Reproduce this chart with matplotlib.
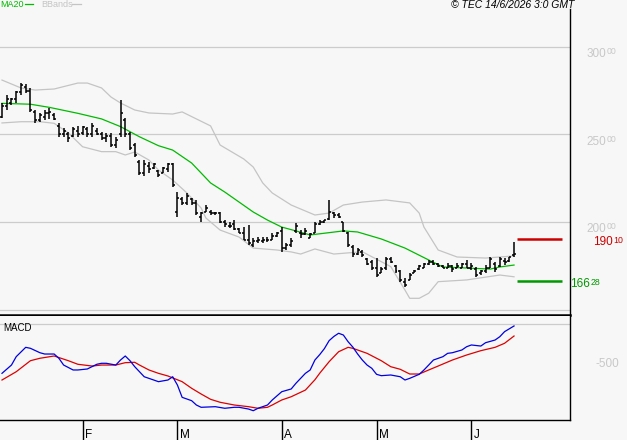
import numpy as np
import matplotlib.pyplot as plt
from matplotlib.lines import Line2D

plt.rcParams['font.family'] = ['Liberation Sans', 'DejaVu Sans']

# daily OHLC, 8 Jan - 12 Jun 2026
bar_high = [268.0, 272.6, 271.0, 275.0, 279.4, 279.0, 276.6, 264.0, 262.0, 264.0,
            265.0, 262.0, 256.6, 253.7, 251.4, 254.0, 254.9, 254.9, 254.0, 256.6,
            253.7, 251.4, 250.9, 250.9, 248.6, 269.7, 259.4, 251.4, 245.0, 235.4,
            235.4, 234.5, 233.9, 229.7, 231.6, 233.5, 233.5, 217.3, 214.5, 216.4,
            213.5, 212.6, 205.9, 209.7, 206.9, 205.9, 205.9, 201.1, 200.2, 201.1,
            196.4, 197.3, 198.3, 190.7, 191.6, 191.6, 191.6, 193.5, 194.5, 197.3,
            187.8, 190.7, 199.6, 195.4, 196.4, 193.5, 200.2, 201.1, 201.1, 212.6,
            205.9, 205.0, 200.2, 194.5, 186.9, 185.0, 184.0, 179.2, 178.3, 179.2,
            174.5, 180.2, 180.2, 175.4, 172.6, 167.8, 170.7, 172.6, 175.4, 176.4,
            178.3, 178.3, 176.4, 175.4, 176.4, 175.4, 176.4, 176.4, 178.3, 176.4,
            174.5, 172.6, 175.4, 180.2, 177.3, 180.2, 179.2, 180.2, 188.8]
bar_low = [259.4, 264.0, 267.0, 268.0, 272.6, 273.7, 263.0, 256.6, 257.0, 258.0,
           259.0, 258.0, 248.6, 248.6, 245.7, 248.6, 248.6, 249.7, 248.6, 248.6,
           249.7, 246.9, 245.7, 242.9, 242.3, 248.6, 248.6, 241.0, 237.0, 226.9,
           226.3, 227.8, 230.1, 225.9, 227.8, 228.7, 220.2, 203.0, 209.7, 209.7,
           209.7, 204.0, 200.2, 205.9, 204.0, 204.0, 199.2, 197.3, 196.4, 195.4,
           193.5, 189.7, 186.9, 185.9, 187.8, 187.8, 188.8, 189.7, 191.6, 183.0,
           184.0, 185.9, 193.5, 190.9, 192.6, 190.7, 193.5, 198.3, 199.2, 201.1,
           202.1, 202.1, 194.5, 185.9, 180.2, 181.1, 180.2, 175.4, 172.6, 168.7,
           170.7, 172.6, 176.4, 170.7, 165.9, 163.0, 166.9, 170.7, 172.6, 173.5,
           175.4, 175.4, 174.5, 173.5, 173.5, 171.6, 173.5, 173.5, 173.5, 172.6,
           168.7, 170.0, 170.7, 173.5, 171.6, 174.5, 175.4, 177.3, 180.2]
bar_open = [260, 266, 268, 270, 274, 277, 275, 263, 258, 260,
            262, 261, 255, 250, 250, 249, 252, 251, 253, 250,
            252, 250, 248, 249, 244, 250, 258, 250, 244, 234,
            228, 232, 231, 229, 228, 230, 233, 206, 213, 211,
            213, 211, 203, 206, 206, 205, 205, 200, 198, 199,
            196, 194, 190, 187, 189, 189, 190, 190, 192, 195,
            185, 187, 195, 194, 193, 191, 194, 199, 200, 202,
            205, 204, 200, 194, 186, 182, 183, 179, 177, 174,
            171, 174, 179, 175, 172, 166, 167, 171, 173, 174,
            176, 177, 176, 175, 174, 175, 174, 174, 176, 174,
            173, 171, 172, 174, 176, 175, 178, 178, 181]
bar_close = [266, 270, 270, 274, 278, 275, 264, 258, 261, 262,
             263, 259, 250, 252, 248, 253, 250, 254, 250, 255,
             250, 248, 249, 244, 247, 262, 250, 242, 238, 228,
             233, 230, 233, 227, 231, 233, 221, 214, 211, 215,
             211, 205, 205, 208, 205, 205, 200, 199, 198, 196,
             194, 190, 188, 189, 190, 190, 190, 192, 194, 185,
             187, 189, 198, 193, 195, 193, 199, 200, 201, 206,
             204, 203, 195, 187, 182, 184, 181, 176, 174, 170,
             173, 179, 177, 172, 167, 164, 170, 172, 175, 176,
             177, 176, 175, 174, 175, 173, 175, 176, 174, 175,
             170, 172, 174, 179, 173, 179, 177, 180, 182]

ma_idx = [0, 6, 10, 16, 21, 25, 29, 33, 36, 40, 44, 47, 53, 56, 59, 62, 65,
          72, 75, 80, 85, 90, 93, 98, 103, 105, 108]
ma_val = [267.8, 267.3, 265.5, 262.1, 258.9, 254.5, 248.7, 243.6, 241.1, 233.7,
          222.3, 217.1, 205.7, 201.1, 197.1, 194.9, 192.6, 194.9, 194.3, 190.3,
          185.1, 178.3, 174.3, 173.7, 173.1, 174.3, 175.4]

bb_up_idx = [0, 4, 7, 11, 16, 18, 21, 23, 25, 28, 31, 36, 38, 44, 46, 51, 53,
             55, 57, 61, 66, 69, 72, 76, 81, 86, 88, 89, 92, 96, 102, 108]
bb_up_val = [281.1, 276.6, 275.4, 276.0, 279.4, 279.4, 276.6, 271.4, 268.0, 264.0,
             262.3, 261.7, 262.9, 254.9, 244.0, 236.0, 231.4, 222.3, 216.6, 209.7,
             204.0, 205.1, 209.7, 211.4, 212.6, 210.9, 205.1, 197.1, 184.0, 180.0,
             179.4, 180.6]
bb_lo_idx = [0, 4, 8, 11, 14, 17, 21, 24, 26, 28, 31, 33, 36, 39, 42, 43, 46,
             50, 53, 58, 61, 63, 66, 70, 76, 82, 85, 86, 88, 90, 92, 98, 105, 108]
bb_lo_val = [256.6, 257.3, 257.3, 256.4, 250.9, 243.0, 240.2, 240.2, 238.3, 240.0,
             235.4, 229.7, 224.0, 216.6, 208.0, 202.3, 195.4, 191.4, 185.1, 184.0,
             182.9, 181.7, 184.6, 181.7, 183.0, 174.5, 161.1, 156.4, 156.4, 159.3,
             165.9, 166.9, 169.7, 168.7]

macd_idx = [0, 2, 3, 5, 6, 8, 9, 11, 12, 13, 15, 16, 18, 20, 21, 22, 24, 25, 26,
            27, 28, 30, 32, 33, 35, 36, 37, 38, 40, 41, 42, 45, 47, 49, 50, 52, 53,
            54, 56, 57, 59, 61, 62, 64, 65, 66, 67, 68, 69, 70, 71, 72, 73, 74, 75,
            76, 77, 78, 79, 80, 82, 84, 85, 86, 88, 89, 90, 91, 93, 94, 95, 97, 98,
            99, 101, 102, 104, 105, 106, 108]
macd_val = [-645, -536, -426, -303, -316, -374, -391, -391, -447, -536, -601, -601,
            -588, -526, -513, -513, -536, -470, -417, -479, -558, -690, -733, -755,
            -733, -690, -799, -961, -1005, -1062, -1092, -1084, -1105, -1092, -1092,
            -1115, -1137, -1105, -1062, -996, -887, -851, -776, -645, -601, -470,
            -400, -320, -215, -160, -118, -141, -229, -300, -390, -470, -536, -579,
            -658, -676, -667, -690, -733, -711, -658, -601, -536, -470, -426, -382,
            -374, -338, -295, -272, -286, -242, -207, -163, -97, -22]
sig_idx = [0, 3, 6, 8, 11, 14, 16, 19, 21, 24, 26, 28, 29, 31, 33, 35, 38, 40,
           42, 44, 46, 49, 52, 54, 56, 57, 59, 61, 64, 66, 67, 69, 71, 73, 74, 77,
           80, 82, 84, 86, 88, 90, 92, 95, 98, 101, 104, 106, 108]
sig_val = [-733, -624, -479, -447, -417, -479, -526, -549, -536, -536, -505, -500,
           -536, -601, -645, -680, -755, -842, -917, -987, -1026, -1062, -1084,
           -1105, -1092, -1062, -996, -953, -865, -730, -645, -492, -361, -303,
           -316, -382, -479, -558, -592, -654, -654, -601, -549, -470, -404, -347,
           -303, -250, -154]

month_idx = [17, 37, 59, 79, 99]
month_lab = ['F', 'M', 'A', 'M', 'J']
price_grid = [150, 200, 250, 300]
price_lab = [200, 250, 300]
resist = 190.10
support = 166.28

BG = '#f7f7f7'
GRID = '#cccccc'
W, H = 627, 440


def fx(px):
    return px / W


def fy(py):
    return 1 - py / H


fig = plt.figure(figsize=(W / 100, H / 100), dpi=100, facecolor=BG)
ax1 = fig.add_axes([0, fy(315), fx(569.5), fy(9) - fy(315)])
ax2 = fig.add_axes([0, fy(419.5), fx(569.5), fy(316) - fy(419.5)])

for ax in (ax1, ax2):
    ax.set_facecolor(BG)
    ax.set_xticks([])
    ax.set_yticks([])
    for s in ('top', 'left'):
        ax.spines[s].set_visible(False)
    ax.spines['right'].set_color('black')
    ax.spines['right'].set_linewidth(1.0)
    ax.spines['bottom'].set_color('black')
    ax.set_xlim(-0.42, 119.7)
ax1.spines['bottom'].set_linewidth(1.8)
ax2.spines['bottom'].set_linewidth(1.0)

ax1.set_ylim(146.86, 321.71)
ax2.set_ylim(-1252.6, 109.2)

# price panel
for g in price_grid:
    ax1.axhline(g, color=GRID, lw=0.9, zorder=0)

x = np.arange(len(bar_high))
ax1.vlines(x, bar_low, bar_high, color='black', lw=1.1, zorder=3)
ax1.hlines(bar_open, x - 0.42, x, color='black', lw=1.1, zorder=3)
ax1.hlines(bar_close, x, x + 0.42, color='black', lw=1.1, zorder=3)

ax1.plot(bb_up_idx, bb_up_val, color='#c4c4c4', lw=0.9, zorder=1)
ax1.plot(bb_lo_idx, bb_lo_val, color='#c4c4c4', lw=0.9, zorder=1)
ax1.plot(ma_idx, ma_val, color='#00bb00', lw=0.9, zorder=2)

last = len(bar_high) - 1
ax1.hlines(resist, last + 0.6, last + 10.1, color='#cc0000', lw=1.8)
ax1.hlines(support, last + 0.6, last + 10.1, color='#009900', lw=1.8)

yt = ax1.get_yaxis_transform()
for v in price_lab:
    ax1.annotate(str(v), xy=(1, v), xycoords=yt, xytext=(12.3, -7.4),
                 textcoords='offset points', color='#c8c8c8', fontsize=8.5,
                 va='baseline', annotation_clip=False)
    ax1.annotate('00', xy=(1, v), xycoords=yt, xytext=(27.0, -5.3),
                 textcoords='offset points', color='#c8c8c8', fontsize=6.3,
                 va='baseline', annotation_clip=False)

r_int, r_dec = f'{resist:.2f}'.split('.')
s_int, s_dec = f'{support:.2f}'.split('.')
ax1.annotate(r_int, xy=(1, resist), xycoords=yt, xytext=(17.0, -4.2),
             textcoords='offset points', color='#cc0000', fontsize=8.5,
             va='baseline', annotation_clip=False)
ax1.annotate(r_dec, xy=(1, resist), xycoords=yt, xytext=(31.8, -2.9),
             textcoords='offset points', color='#cc0000', fontsize=6.3,
             va='baseline', annotation_clip=False)
ax1.annotate(s_int, xy=(1, support), xycoords=yt, xytext=(0.4, -4.1),
             textcoords='offset points', color='#009900', fontsize=8.5,
             va='baseline', annotation_clip=False)
ax1.annotate(s_dec, xy=(1, support), xycoords=yt, xytext=(15.3, -2.9),
             textcoords='offset points', color='#009900', fontsize=6.3,
             va='baseline', annotation_clip=False)

# MACD panel
ax2.axhline(0, color=GRID, lw=0.9, zorder=0)
ax2.plot(sig_idx, sig_val, color='#dd0000', lw=0.9)
ax2.plot(macd_idx, macd_val, color='#0000e0', lw=0.9)
ax2.text(0.005, 0.885, 'MACD', transform=ax2.transAxes, fontsize=7,
         va='center', ha='left')
ax2.annotate('-500', xy=(1, -500), xycoords=ax2.get_yaxis_transform(),
             xytext=(19, -3.4), textcoords='offset points', color='#c8c8c8',
             fontsize=8.5, va='baseline', annotation_clip=False)

xt = ax2.get_xaxis_transform()
ax2.vlines(month_idx, -0.2, 0, transform=xt, color='black', lw=1.0,
           clip_on=False)
for m, lab in zip(month_idx, month_lab):
    ax2.annotate(lab, xy=(m, -0.18), xycoords=xt, xytext=(1.6, 0),
                 textcoords='offset points', fontsize=8.5, va='baseline',
                 annotation_clip=False)

# header
fig.text(fx(0), fy(4.6), 'MA20', color='#00bb00', fontsize=6.5, va='center')
fig.add_artist(Line2D([fx(25), fx(33)], [fy(4.5)] * 2, color='#00bb00', lw=0.9))
fig.text(fx(41), fy(4.6), 'BBands', color='#c4c4c4', fontsize=6.5, va='center')
fig.add_artist(Line2D([fx(72), fx(81)], [fy(4.5)] * 2, color='#c4c4c4', lw=0.9))
fig.text(fx(574), fy(4.6), '\u00a9 TEC 14/6/2026 3:0 GMT', fontsize=7.5,
         style='italic', ha='right', va='center')

fig.savefig('out.png', dpi=100, facecolor=BG)
plt.close(fig)
